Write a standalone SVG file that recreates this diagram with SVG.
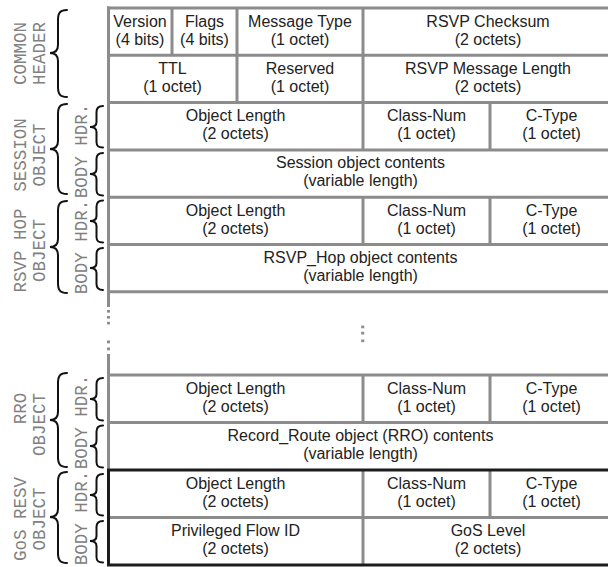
<svg xmlns="http://www.w3.org/2000/svg" width="608" height="567" viewBox="0 0 608 567">
  <style>
    .g { stroke: #8c8c8c; stroke-width: 3; fill: none; }
    .k { stroke: #1c1c1c; stroke-width: 3; fill: none; }
    .dot { fill: #8c8c8c; }
    .t { font-family: "Liberation Sans", Arial, sans-serif; font-size: 16px; fill: #222; text-anchor: middle; }
    .lbl { font-family: "Liberation Mono", "Courier New", monospace; font-size: 17.5px; fill: #808080; text-anchor: middle; }
    .br { stroke: #111; stroke-width: 2; fill: none; stroke-linecap: round; }
  </style>
  <rect width="608" height="567" fill="#fff"/>

  <!-- table grid -->
  <g id="grid">
    <path class="g" d="M107 8H612M107 55.3H612M107 102.6H612M107 149.9H612M107 197.2H612M107 244.5H612M107 291.8H612M107 375H612M107 422.5H612M109 517.5H612"/>
    <path class="g" d="M108.5 6.5V307M108.5 354V470"/>
    <rect class="dot" x="107" y="310" width="3" height="2.6"/>
    <rect class="dot" x="107" y="316" width="3" height="2.6"/>
    <rect class="dot" x="107" y="321.8" width="3" height="2.6"/>
    <rect class="dot" x="107" y="340.5" width="3" height="2.8"/>
    <rect class="dot" x="107" y="347.5" width="3" height="2.8"/>
    <path class="g" d="M172 8V55.3M237 8V102.6M363 8V149.9M490 102.6V149.9M363 197.2V244.5M490 197.2V244.5M363 375V422.5M490 375V422.5M363 470V565M490 470V517.5"/>
    <path class="k" d="M612 470H108.5V565H612"/>
    <!-- omitted objects -->
    <rect class="dot" x="361.2" y="325.6" width="3" height="2.7"/>
    <rect class="dot" x="361.2" y="331.8" width="3" height="2.7"/>
    <rect class="dot" x="361.2" y="339.5" width="3" height="2.7"/>
  </g>

  <!-- common header -->
  <g id="common-header">
    <text class="t" x="140" y="26.5">Version</text><text class="t" x="140" y="44.5">(4 bits)</text>
    <text class="t" x="204.5" y="26.5">Flags</text><text class="t" x="204.5" y="44.5">(4 bits)</text>
    <text class="t" x="300" y="26.5">Message Type</text><text class="t" x="300" y="44.5">(1 octet)</text>
    <text class="t" x="488" y="26.5">RSVP Checksum</text><text class="t" x="488" y="44.5">(2 octets)</text>
    <text class="t" x="172.5" y="73.8">TTL</text><text class="t" x="172.5" y="91.8">(1 octet)</text>
    <text class="t" x="300" y="73.8">Reserved</text><text class="t" x="300" y="91.8">(1 octet)</text>
    <text class="t" x="488" y="73.8">RSVP Message Length</text><text class="t" x="488" y="91.8">(2 octets)</text>
    <text class="lbl" transform="translate(26 53.5) rotate(-90)">COMMON</text>
    <text class="lbl" transform="translate(45 53.5) rotate(-90)">HEADER</text>
  </g>

  <!-- session object -->
  <g id="session-object">
    <text class="t" x="235.5" y="121.1">Object Length</text><text class="t" x="235.5" y="139.1">(2 octets)</text>
    <text class="t" x="426.5" y="121.1">Class-Num</text><text class="t" x="426.5" y="139.1">(1 octet)</text>
    <text class="t" x="551.5" y="121.1">C-Type</text><text class="t" x="551.5" y="139.1">(1 octet)</text>
    <text class="t" x="360.5" y="168.4">Session object contents</text><text class="t" x="360.5" y="186.4">(variable length)</text>
    <text class="lbl" transform="translate(26 155) rotate(-90)">SESSION</text>
    <text class="lbl" transform="translate(45 155) rotate(-90)">OBJECT</text>
    <text class="lbl" transform="translate(87 151) rotate(-90)">BODY HDR.</text>
  </g>

  <!-- RSVP hop object -->
  <g id="rsvp-hop-object">
    <text class="t" x="235.5" y="215.7">Object Length</text><text class="t" x="235.5" y="233.7">(2 octets)</text>
    <text class="t" x="426.5" y="215.7">Class-Num</text><text class="t" x="426.5" y="233.7">(1 octet)</text>
    <text class="t" x="551.5" y="215.7">C-Type</text><text class="t" x="551.5" y="233.7">(1 octet)</text>
    <text class="t" x="360.5" y="263">RSVP_Hop object contents</text><text class="t" x="360.5" y="281">(variable length)</text>
    <text class="lbl" transform="translate(26 250.5) rotate(-90)">RSVP HOP</text>
    <text class="lbl" transform="translate(45 250.5) rotate(-90)">OBJECT</text>
    <text class="lbl" transform="translate(87 247) rotate(-90)">BODY HDR.</text>
  </g>

  <!-- RRO object -->
  <g id="rro-object">
    <text class="t" x="235.5" y="393.5">Object Length</text><text class="t" x="235.5" y="411.5">(2 octets)</text>
    <text class="t" x="426.5" y="393.5">Class-Num</text><text class="t" x="426.5" y="411.5">(1 octet)</text>
    <text class="t" x="551.5" y="393.5">C-Type</text><text class="t" x="551.5" y="411.5">(1 octet)</text>
    <text class="t" x="360.5" y="441">Record_Route object (RRO) contents</text><text class="t" x="360.5" y="459">(variable length)</text>
    <text class="lbl" transform="translate(26 408.5) rotate(-90)">RRO</text>
    <text class="lbl" transform="translate(45 424.5) rotate(-90)">OBJECT</text>
    <text class="lbl" transform="translate(87 422) rotate(-90)">BODY HDR.</text>
  </g>

  <!-- GoS RESV object -->
  <g id="gos-resv-object">
    <text class="t" x="235.5" y="488.5">Object Length</text><text class="t" x="235.5" y="506.5">(2 octets)</text>
    <text class="t" x="426.5" y="488.5">Class-Num</text><text class="t" x="426.5" y="506.5">(1 octet)</text>
    <text class="t" x="551.5" y="488.5">C-Type</text><text class="t" x="551.5" y="506.5">(1 octet)</text>
    <text class="t" x="235.5" y="536">Privileged Flow ID</text><text class="t" x="235.5" y="554">(2 octets)</text>
    <text class="t" x="488" y="536">GoS Level</text><text class="t" x="488" y="554">(2 octets)</text>
    <text class="lbl" transform="translate(26 519) rotate(-90)">GoS RESV</text>
    <text class="lbl" transform="translate(45 519) rotate(-90)">OBJECT</text>
    <text class="lbl" transform="translate(87 518) rotate(-90)">BODY HDR.</text>
  </g>

  <!-- braces -->
  <g id="connectors">
    <path class="br" d="M67 10C60 10 58 13 58 20V45C58 50 55 53 50 53C55 53 58 56 58 61V87C58 94 60 97 67 97"/>
    <path class="br" d="M67 104C60 104 58 107 58 114V141C58 146 55 149 50 149C55 149 58 152 58 157V184C58 191 60 194 67 194"/>
    <path class="br" d="M67 201C60 201 58 204 58 211V239C58 244 55 247 50 247C55 247 58 250 58 255V283C58 290 60 293 67 293"/>
    <path class="br" d="M67 373C60 373 58 376 58 383V412C58 417 55 420 50 420C55 420 58 423 58 428V457C58 464 60 467 67 467"/>
    <path class="br" d="M67 472C60 472 58 475 58 482V509C58 514 55 517 50 517C55 517 58 520 58 525V553C58 560 60 563 67 563"/>

    <path class="br" d="M103 106C98 106 96.5 108 96.5 112V122C96.5 125 94 127 90 127C94 127 96.5 129 96.5 132V142C96.5 146 98 147.5 103 147.5"/>
    <path class="br" d="M103 153C98 153 96.5 155 96.5 159V169C96.5 172 94 174 90 174C94 174 96.5 176 96.5 179V190C96.5 194 98 195.5 103 195.5"/>
    <path class="br" d="M103 200.5C98 200.5 96.5 202.5 96.5 206.5V216C96.5 219 94 221 90 221C94 221 96.5 223 96.5 226V237C96.5 241 98 242.5 103 242.5"/>
    <path class="br" d="M103 248C98 248 96.5 250 96.5 254V263C96.5 266 94 268 90 268C94 268 96.5 270 96.5 273V284C96.5 288 98 290 103 290"/>
    <path class="br" d="M103 378C98 378 96.5 380 96.5 384V394C96.5 397 94 399 90 399C94 399 96.5 401 96.5 404V415C96.5 419 98 420.5 103 420.5"/>
    <path class="br" d="M103 425.5C98 425.5 96.5 427.5 96.5 431.5V441C96.5 444 94 446 90 446C94 446 96.5 448 96.5 451V462C96.5 466 98 467.5 103 467.5"/>
    <path class="br" d="M103 474C98 474 96.5 476 96.5 480V490C96.5 493 94 495 90 495C94 495 96.5 497 96.5 500V510C96.5 514 98 515.5 103 515.5"/>
    <path class="br" d="M103 521C98 521 96.5 523 96.5 527V536C96.5 539 94 541 90 541C94 541 96.5 543 96.5 546V557C96.5 561 98 562.5 103 562.5"/>
  </g>
</svg>
